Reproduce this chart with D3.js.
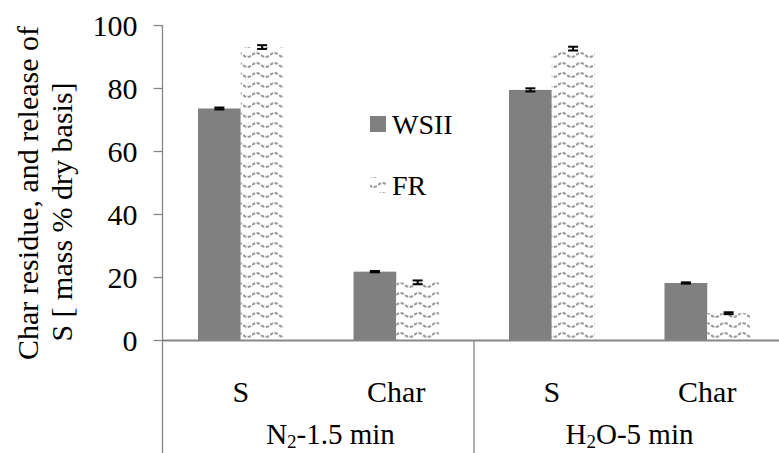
<!DOCTYPE html>
<html>
<head>
<meta charset="utf-8">
<script src="https://cdn.jsdelivr.net/npm/d3@7"></script>
<style>
  html, body { margin: 0; padding: 0; background: #fff; }
  svg { display: block; }
  svg text { font-family: "Liberation Serif", "Times New Roman", serif; fill: #000; }
</style>
</head>
<body>
<svg id="chart" width="779" height="453"></svg>
<script>
// Sulphur release and char residue, two atmospheres, two series with error bars
const groups = ["N2-1.5 min", "H2O-5 min"];
const categories = ["S", "Char", "S", "Char"];
const categoryGroup = [0, 0, 1, 1];
const seriesNames = ["WSII", "FR"];
const wsiiValues = [73.5, 21.7, 79.4, 18.1];
const wsiiErrors = [0.3, 0.2, 0.5, 0.2];
const frValues = [93.0, 18.3, 92.5, 8.5];
const frErrors = [0.6, 0.6, 0.6, 0.3];
const yTicks = [0, 20, 40, 60, 80, 100];

const svg = d3.select("#chart");
const W = 779, H = 453;
const plotLeft = 163, plotRight = 785, plotTop = 25, plotBottom = 340;
const axisColor = "#868686";
const fontSize = 30;

// Hatch pattern: rows of grey waves
const defs = svg.append("defs");
const pat = defs.append("pattern")
  .attr("id", "wave")
  .attr("patternUnits", "userSpaceOnUse")
  .attr("width", 18).attr("height", 10);
pat.append("rect").attr("width", 18).attr("height", 10).attr("fill", "#fff");
pat.append("path")
  .attr("d", "M0,5 Q4.5,1 9,5 T18,5")
  .attr("fill", "none")
  .attr("stroke", "#9a9a9a")
  .attr("stroke-width", 2)
  .attr("stroke-dasharray", "3.5,1.5");

const x0 = d3.scaleBand().domain(d3.range(categories.length)).range([plotLeft, plotRight]).padding(0);
const x1 = d3.scaleBand().domain(seriesNames)
  .range([x0.bandwidth() * 0.225, x0.bandwidth() * 0.775]).padding(0);
const y = d3.scaleLinear().domain([0, 100]).range([plotBottom, plotTop]);

const series = [
  { name: "WSII", values: wsiiValues, errors: wsiiErrors, fill: "#808080" },
  { name: "FR", values: frValues, errors: frErrors, fill: "url(#wave)" }
];

// Bars
series.forEach(s => {
  svg.append("g").selectAll("rect")
    .data(s.values)
    .join("rect")
    .attr("x", (d, i) => x0(i) + x1(s.name))
    .attr("y", d => y(d))
    .attr("width", x1.bandwidth())
    .attr("height", d => y(0) - y(d))
    .attr("fill", s.fill);
});

// Error bars
series.forEach(s => {
  const g = svg.append("g").attr("stroke", "#000").attr("stroke-width", 2);
  s.values.forEach((v, i) => {
    const cx = x0(i) + x1(s.name) + x1.bandwidth() / 2;
    const y1 = y(v + s.errors[i]), y2 = y(v - s.errors[i]);
    g.append("line").attr("x1", cx).attr("x2", cx).attr("y1", y1).attr("y2", y2);
    g.append("line").attr("x1", cx - 5).attr("x2", cx + 5).attr("y1", y1).attr("y2", y1);
    g.append("line").attr("x1", cx - 5).attr("x2", cx + 5).attr("y1", y2).attr("y2", y2);
  });
});

// Y axis
const yAxis = svg.append("g")
  .attr("transform", `translate(${plotLeft - 0.5},0)`)
  .call(d3.axisLeft(y).tickValues(yTicks).tickSize(9).tickPadding(16));
yAxis.attr("font-family", null);
yAxis.select(".domain").remove();
yAxis.selectAll(".tick line").attr("stroke", axisColor).attr("stroke-width", 1.3);
yAxis.selectAll(".tick text")
  .attr("font-size", fontSize).attr("fill", "#000").attr("dy", "0.34em");

// Axis lines: vertical axis runs down through the category label area
svg.append("line").attr("x1", plotLeft - 0.5).attr("x2", plotLeft - 0.5)
  .attr("y1", y(100)).attr("y2", H)
  .attr("stroke", axisColor).attr("stroke-width", 1.3);
svg.append("line").attr("x1", plotLeft - 0.5).attr("x2", W)
  .attr("y1", y(0) + 0.5).attr("y2", y(0) + 0.5)
  .attr("stroke", axisColor).attr("stroke-width", 2);
// Divider between the two groups
svg.append("line").attr("x1", x0(2)).attr("x2", x0(2))
  .attr("y1", y(0)).attr("y2", H)
  .attr("stroke", axisColor).attr("stroke-width", 1.3);

// Category labels
svg.append("g").selectAll("text")
  .data(categories)
  .join("text")
  .attr("x", (d, i) => x0(i) + x0.bandwidth() / 2)
  .attr("y", 402)
  .attr("text-anchor", "middle")
  .attr("font-size", fontSize)
  .text(d => d);

// Group labels with subscripts
const groupParts = [
  [["N", false], ["2", true], ["-1.5 min", false]],
  [["H", false], ["2", true], ["O-5 min", false]]
];
const groupNudge = [12, 0];
groups.forEach((gname, gi) => {
  const idx = categoryGroup.map((g, i) => g === gi ? i : -1).filter(i => i >= 0);
  const gx0 = x0(idx[0]), gx1 = x0(idx[idx.length - 1]) + x0.bandwidth();
  const t = svg.append("text")
    .attr("x", (gx0 + gx1) / 2 + groupNudge[gi])
    .attr("y", 444)
    .attr("text-anchor", "middle")
    .attr("font-size", 29);
  groupParts[gi].forEach(([txt, sub], k) => {
    const ts = t.append("tspan").text(txt);
    if (sub) ts.attr("font-size", 19).attr("dy", 4);
    else if (k > 0) ts.attr("dy", -4);
  });
});

// Legend
const legend = svg.append("g");
series.forEach((s, i) => {
  const ly = 116 + i * 61;
  legend.append("rect").attr("x", 370).attr("y", ly).attr("width", 16).attr("height", 16)
    .attr("fill", s.fill);
  legend.append("text").attr("x", 392).attr("y", ly + 18)
    .attr("font-size", 28).text(s.name);
});

// Y axis title, two lines
const title = svg.append("g");
title.append("text")
  .attr("transform", "translate(38,193) rotate(-90)")
  .attr("text-anchor", "middle")
  .attr("font-size", fontSize)
  .text("Char residue, and release of");
title.append("text")
  .attr("transform", "translate(72,212) rotate(-90)")
  .attr("text-anchor", "middle")
  .attr("font-size", fontSize)
  .text("S [ mass % dry basis]");
</script>
</body>
</html>
